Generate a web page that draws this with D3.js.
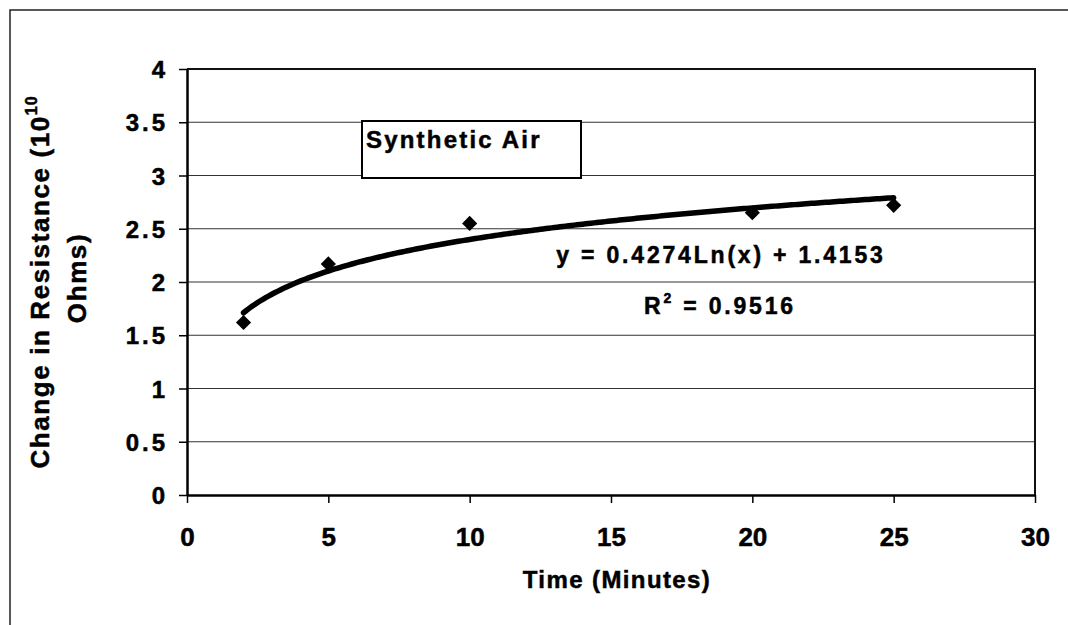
<!DOCTYPE html>
<html>
<head>
<meta charset="utf-8">
<script src="https://cdn.jsdelivr.net/npm/d3@7"></script>
<style>
  html, body { margin: 0; padding: 0; background: #fff; }
  svg { display: block; }
  text { font-family: "Liberation Sans", Arial, Helvetica, sans-serif; font-weight: bold; fill: #000; stroke: #000; stroke-width: 0.5px; }
</style>
</head>
<body>
<svg id="chart" width="1068" height="625"></svg>
<script>
// Measured change in resistance over time in synthetic air
const times = [2, 5, 10, 20, 25];
const resistance = [1.62, 2.17, 2.55, 2.65, 2.72];

// Logarithmic trendline coefficients (y = a·ln(x) + b) and fit quality
const fitSlope = 0.4274;
const fitIntercept = 1.4153;
const fitR2 = 0.9516;

const xTicks = [0, 5, 10, 15, 20, 25, 30];
const yTicks = [0, 0.5, 1, 1.5, 2, 2.5, 3, 3.5, 4];
const yTickLabels = ["0", "0.5", "1", "1.5", "2", "2.5", "3", "3.5", "4"];

const svg = d3.select("#chart");

const x = d3.scaleLinear().domain([0, 30]).range([187, 1035]);
const y = d3.scaleLinear().domain([0, 4]).range([495, 69]);

// Outer chart border (top and left edges)
svg.append("path")
  .attr("d", "M10,625 L10,10 L1068,10")
  .attr("fill", "none").attr("stroke", "#222").attr("stroke-width", 1.5);

// Horizontal gridlines
svg.append("g")
  .selectAll("line")
  .data(yTicks.filter(v => v > 0 && v < 4))
  .join("line")
  .attr("x1", x(0)).attr("x2", x(30))
  .attr("y1", d => y(d)).attr("y2", d => y(d))
  .attr("stroke", "#333").attr("stroke-width", 1.2);

// Plot frame: top and right edges
svg.append("path")
  .attr("d", `M${x(0)},${y(4)} L${x(30)},${y(4)} L${x(30)},${y(0)}`)
  .attr("fill", "none").attr("stroke", "#111").attr("stroke-width", 2);

// Y axis
const yAxis = svg.append("g")
  .attr("transform", `translate(${x(0)},0)`)
  .call(d3.axisLeft(y).tickValues(yTicks).tickSize(8).tickSizeOuter(0)
    .tickFormat((d, i) => yTickLabels[i]));
yAxis.select(".domain").attr("stroke", "#000").attr("stroke-width", 2.5);
yAxis.selectAll(".tick line").attr("stroke", "#000").attr("stroke-width", 1.5);
yAxis.selectAll(".tick text")
  .attr("x", -19).attr("dy", "0.36em")
  .style("font-size", "24px").style("letter-spacing", "3px")
  .attr("font-family", null).attr("font-size", null);

// X axis
const xAxis = svg.append("g")
  .attr("transform", `translate(0,${y(0)})`)
  .call(d3.axisBottom(x).tickValues(xTicks).tickSize(8).tickSizeOuter(0)
    .tickFormat(d3.format("d")));
xAxis.select(".domain").attr("stroke", "#000").attr("stroke-width", 2.5);
xAxis.selectAll(".tick line").attr("stroke", "#000").attr("stroke-width", 1.5);
xAxis.selectAll(".tick text")
  .attr("y", 0).attr("dy", 51)
  .style("font-size", "26px")
  .attr("font-family", null).attr("font-size", null);

// Label box
const box = svg.append("g");
box.append("rect")
  .attr("x", 362).attr("y", 121).attr("width", 219).attr("height", 57)
  .attr("fill", "#fff").attr("stroke", "#000").attr("stroke-width", 2);
box.append("text")
  .attr("x", 366).attr("y", 148)
  .style("font-size", "24px").style("letter-spacing", "2.2px")
  .text("Synthetic Air");

// Trendline
const fitXs = d3.range(0, 231).map(i => 2 + i * 0.1);
const fitLine = d3.line()
  .x(d => x(d))
  .y(d => y(fitSlope * Math.log(d) + fitIntercept))
  .curve(d3.curveLinear);
svg.append("path")
  .datum(fitXs)
  .attr("d", fitLine)
  .attr("fill", "none").attr("stroke", "#000")
  .attr("stroke-width", 5.5).attr("stroke-linecap", "round");

// Data markers (diamonds)
svg.append("g")
  .selectAll("path")
  .data(times.map((t, i) => [t, resistance[i]]))
  .join("path")
  .attr("transform", d => `translate(${x(d[0])},${y(d[1])}) rotate(45)`)
  .attr("d", d3.symbol(d3.symbolSquare, 115))
  .attr("fill", "#000");

// Trendline equation and R²
svg.append("text")
  .attr("x", 721).attr("y", 263).attr("text-anchor", "middle")
  .style("font-size", "23px").style("letter-spacing", "2.8px")
  .text(`y = ${fitSlope}Ln(x) + ${fitIntercept}`);
const r2 = svg.append("text")
  .attr("x", 720).attr("y", 314).attr("text-anchor", "middle")
  .style("font-size", "23px").style("letter-spacing", "2.8px");
r2.append("tspan").text("R");
r2.append("tspan").attr("dy", -11).style("font-size", "14px").text("2");
r2.append("tspan").attr("dy", 11).text(` = ${fitR2}`);

// X axis title
svg.append("text")
  .attr("x", 617).attr("y", 588).attr("text-anchor", "middle")
  .style("font-size", "24px").style("letter-spacing", "1.4px")
  .text("Time (Minutes)");

// Y axis title (two lines, rotated)
const yTitle = svg.append("g")
  .attr("transform", `translate(40,${(y(0) + y(4)) / 2}) rotate(-90)`);
const line1 = yTitle.append("text")
  .attr("x", 0).attr("y", 9).attr("text-anchor", "middle")
  .style("font-size", "26px").style("letter-spacing", "1.6px");
line1.append("tspan").text("Change in Resistance (10");
line1.append("tspan").attr("dy", -12).style("font-size", "16px").style("letter-spacing", "1px").text("10");
yTitle.append("text")
  .attr("x", 4).attr("y", 46).attr("text-anchor", "middle")
  .style("font-size", "26px").style("letter-spacing", "1.6px")
  .text("Ohms)");
</script>
</body>
</html>
